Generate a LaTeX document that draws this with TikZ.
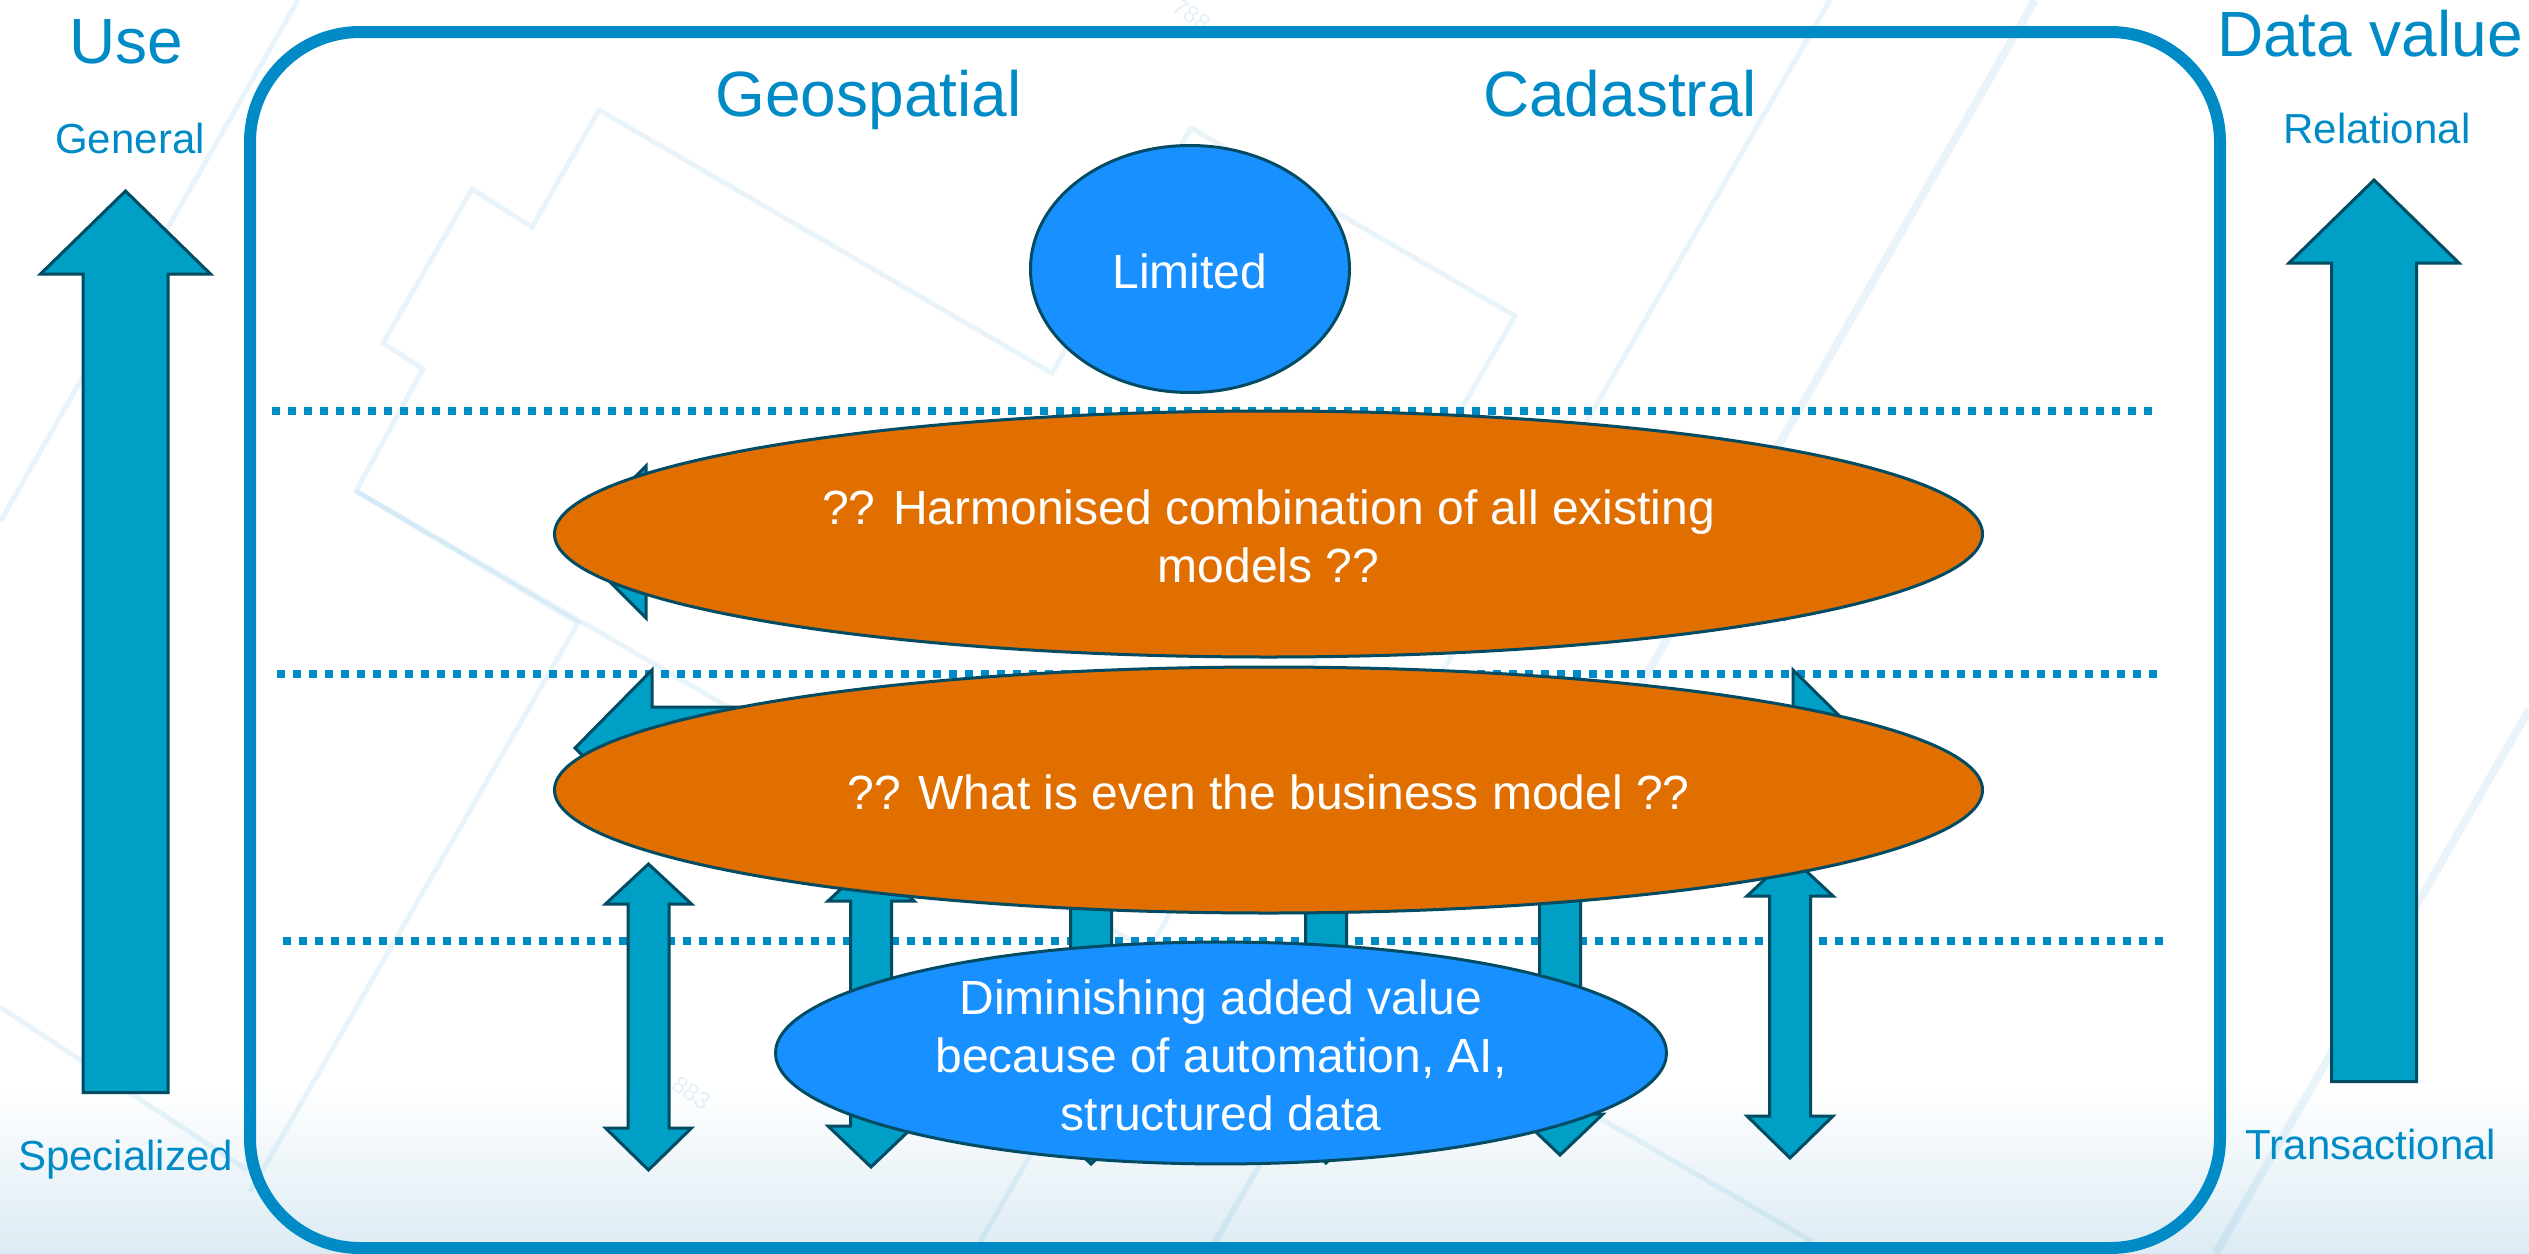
\documentclass[tikz,border=0pt]{standalone}
\usepackage{fontspec}
\setmainfont{Liberation Sans}
\usetikzlibrary{shapes.geometric}
\definecolor{framec}{HTML}{008BC7}
\definecolor{arrowc}{HTML}{009FC5}
\definecolor{edgec}{HTML}{014C63}
\definecolor{blobblue}{HTML}{1890FF}
\definecolor{bloborange}{HTML}{E06F00}
\definecolor{floorc}{HTML}{DCEBF3}
\tikzset{
  faint/.style={draw=framec,draw opacity=.085,line width=#1,line cap=butt,line join=miter},
  faint/.default=5pt,
  fainttext/.style={text=framec,text opacity=.11,font=\fontsize{24}{24}\selectfont,inner sep=0pt},
  frameline/.style={draw=framec,line width=12pt},
  dotline/.style={draw=framec,line width=8pt,dash pattern=on 8pt off 8pt},
  blockarrow/.style={fill=arrowc,draw=edgec,line width=3pt,line join=miter,miter limit=10},
  blob/.style={ellipse,draw=edgec,line width=3pt,text=white,align=center,inner sep=0pt,
     font=\fontsize{48}{58}\selectfont},
  orangeblob/.style={blob,fill=bloborange,minimum width=1428pt,minimum height=246pt},
  blueblob/.style={blob,fill=blobblue},
  headtext/.style={text=framec,anchor=base,inner sep=0pt,font=\fontsize{64}{64}\selectfont},
  subtext/.style={text=framec,anchor=base,inner sep=0pt,font=\fontsize{42}{42}\selectfont},
}
\newcommand{\firstline}{\rule{0pt}{40.4pt}}
% vertical double arrow: centre x, top tip, upper base, lower base, bottom tip, head half, shaft half
\newcommand{\vdouble}[7]{\draw[blockarrow] (#1,#2) -- (#1+#6,#3) -- (#1+#7,#3) -- (#1+#7,#4) -- (#1+#6,#4)
  -- (#1,#5) -- (#1-#6,#4) -- (#1-#7,#4) -- (#1-#7,#3) -- (#1-#6,#3) -- cycle;}
% horizontal double arrow: left tip, left base, right base, right tip, centre y, head half, shaft half
\newcommand{\hdouble}[7]{\draw[blockarrow] (#1,#5) -- (#2,#5-#6) -- (#2,#5-#7) -- (#3,#5-#7) -- (#3,#5-#6)
  -- (#4,#5) -- (#3,#5+#6) -- (#3,#5+#7) -- (#2,#5+#7) -- (#2,#5+#6) -- cycle;}
% single upward arrow: centre x, tip, head base, bottom, head half, shaft half
\newcommand{\vsingle}[6]{\draw[blockarrow] (#1,#2) -- (#1+#5,#3) -- (#1+#6,#3) -- (#1+#6,#4) -- (#1-#6,#4)
  -- (#1-#6,#3) -- (#1-#5,#3) -- cycle;}
\begin{document}
\begin{tikzpicture}[x=1pt,y=-1pt]
\useasboundingbox (0,0) rectangle (2529,1253);
% background
\fill[white] (0,0) rectangle (2529,1253);
\shade[top color=white,bottom color=floorc,shading angle=0] (0,1085) rectangle (2529,1253);
% faint cadastral parcels
\draw[faint=5pt] (298,0) -- (0,522);
\draw[faint=5pt] (250,1192) -- (578,623) -- (356,491) -- (423,369) -- (383,343) -- (472,189) -- (532,227) -- (599,110) -- (1052,373) -- (1191,128) -- (1515,316) -- (980,1242);
\draw[faint=5pt] (356,491) -- (1130,940);
\draw[faint=5pt] (1830,0) -- (1400,745);
\draw[faint=8pt] (2035,0) -- (1580,790);
\draw[faint=6pt] (1215,1242) -- (1300,1095);
\draw[faint=5pt] (1813,1242) -- (1500,1060);
\draw[faint=8pt] (2529,710) -- (2216,1253);
\draw[faint=5pt] (0,1007) -- (247,1170);
\node[fainttext,rotate=-35] (labelA) at (1192,15) {788};
\node[fainttext,rotate=-35] (labelB) at (692,1093) {883};
% frame
\draw[frameline] (250,32) [rounded corners=110pt] -- (2220,32) -- (2220,1248) -- (250,1248) -- cycle;
% dotted separators
\draw[dotline] (272,411) -- (2152,411);
\draw[dotline] (277,674) -- (2158,674);
\draw[dotline] (283,941) -- (2163,941);
% arrows
\vsingle{125.5}{191}{274}{1092.5}{85}{42.5}
\vsingle{2374}{180}{263}{1081.5}{85}{42.5}
\hdouble{570}{646}{1786}{1862}{542}{76}{38}
\hdouble{575}{652}{1793}{1872}{748}{78}{41}
\vdouble{648.5}{864}{904}{1128}{1170}{43}{20.5}
\vdouble{871}{861}{901}{1126}{1167}{43}{20.5}
\vdouble{1091}{858}{898}{1123}{1164}{43}{20.5}
\vdouble{1326}{858}{898}{1122}{1163}{43}{20.5}
\vdouble{1560}{856}{896}{1114}{1155}{43}{20.5}
\vdouble{1790}{856}{896}{1116}{1158}{43}{20.5}
% ellipses
\node[blueblob,minimum width=319pt,minimum height=247pt] (limited) at (1190,269) {\firstline Limited};
\node[orangeblob] (harmonised) at (1268.5,534) {\firstline ?? Harmonised combination of all existing\\models ??};
\node[orangeblob] (business) at (1268.5,790) {\firstline ?? What is even the business model ??};
\node[blueblob,minimum width=891pt,minimum height=213pt] (diminishing) at (1221,1053) {\firstline Diminishing added value\\because of automation, AI,\\structured data};
% labels
\node[headtext] (use) at (126,63.5) {Use};
\node[subtext] (general) at (130,153) {General};
\node[subtext] (specialized) at (125.5,1170.5) {Specialized};
\node[headtext] (geo) at (868.5,116) {Geospatial};
\node[headtext] (cad) at (1620,116) {Cadastral};
\node[headtext] (dataval) at (2370,56) {Data value};
\node[subtext] (relational) at (2377,143) {Relational};
\node[subtext] (transactional) at (2371,1159) {Transactional};
\end{tikzpicture}
\end{document}
